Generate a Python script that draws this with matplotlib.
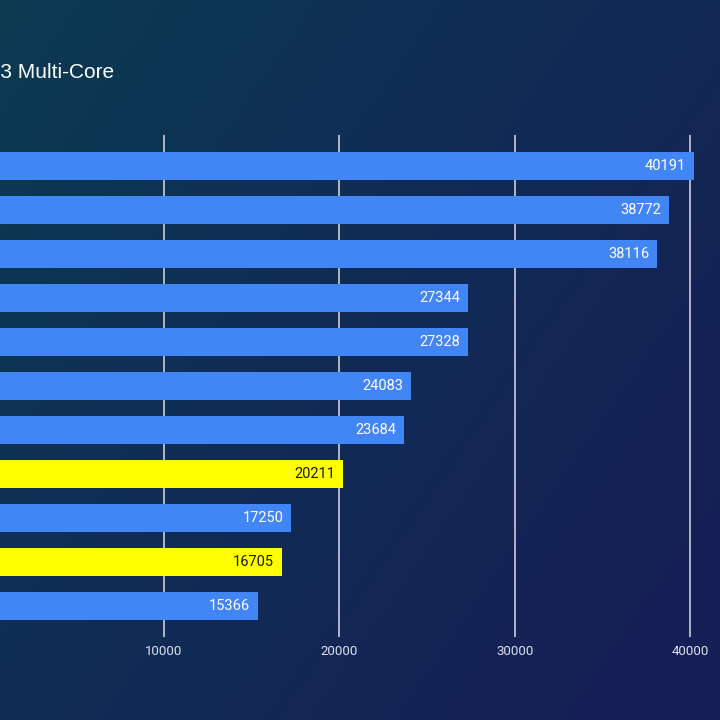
import numpy as np
import matplotlib
matplotlib.use("Agg")
import matplotlib.pyplot as plt
from matplotlib.colors import LinearSegmentedColormap

# data (top to bottom); category names are cut off in the reference
scores = [40191, 38772, 38116, 27344, 27328, 24083, 23684, 20211, 17250, 16705, 15366]
highlight = [False, False, False, False, False, False, False, True, False, True, False]
xticks = [10000, 20000, 30000, 40000]
title = "Cinebench R23 Multi-Core"

BLUE = "#4285F4"
YELLOW = "#FFFF00"

plt.rcParams["font.family"] = ["Roboto", "DejaVu Sans"]

fig = plt.figure(figsize=(7.2, 7.2), dpi=100)

# gradient background
bg = fig.add_axes([0, 0, 1, 1], zorder=0)
gx, gy = np.meshgrid(np.linspace(0, 1, 200), np.linspace(0, 1, 200))
t = np.clip(0.65 * gx + 0.45 * gy, 0, 1)
cmap = LinearSegmentedColormap.from_list("bg", ["#0B3A52", "#112C55", "#161F55"])
bg.imshow(t, cmap=cmap, extent=[0, 1, 0, 1], aspect="auto", origin="upper")
bg.set_axis_off()

# main axes: x=0 sits just left of the canvas
left = -11.5 / 720
right = 708 / 720
ax = fig.add_axes([left, 83 / 720, right - left, (585 - 83) / 720], zorder=1)
ax.patch.set_alpha(0)

y = np.arange(len(scores))
colors = [YELLOW if h else BLUE for h in highlight]
ax.barh(y, scores, height=0.64, color=colors, zorder=3)

for yi, s, h in zip(y, scores, highlight):
    ax.text(s - 450, yi, f"{s}", ha="right", va="center", fontsize=10.5,
            color="#1A1A1A" if h else "white", zorder=4)

ax.set_ylim(len(scores) - 0.3, -0.7)
ax.set_xlim(0, 41000)
ax.set_xticks(xticks)
ax.set_xticklabels([str(v) for v in xticks], color="#DDE3EE", fontsize=9.5)
ax.tick_params(axis="x", length=0, pad=6)
ax.set_yticks([])
ax.grid(axis="x", color="#C8CED8", linewidth=1.2, zorder=1)
for sp in ax.spines.values():
    sp.set_visible(False)

fig.text(114 / 720, 1 - 73 / 720, title, ha="right", va="center",
         fontsize=15, color="white", family=["Liberation Sans", "DejaVu Sans"])

fig.savefig("out.png", dpi=100)
